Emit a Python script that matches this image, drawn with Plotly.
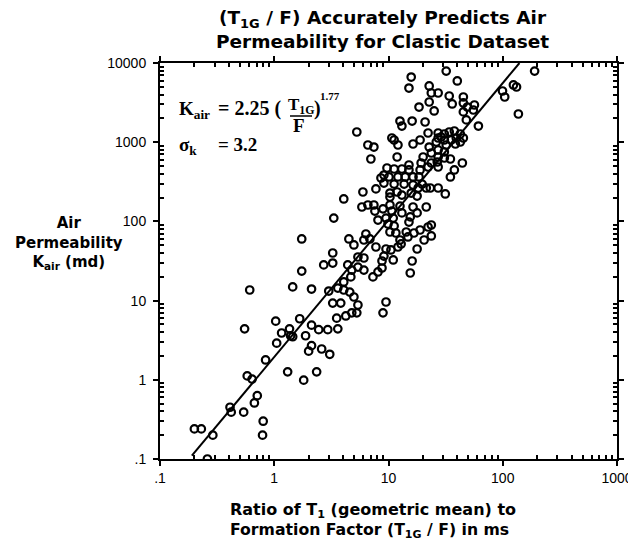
import plotly.graph_objects as go

# T1G/F ratio (ms) and air permeability (md)
ratio = [
    0.20, 0.23, 0.29, 0.26, 0.41, 0.42, 0.54, 0.58, 0.64, 0.71, 0.67, 0.80, 0.79, 0.84,
    0.55, 0.61, 1.03, 1.05, 1.16, 1.31, 1.36, 1.39, 1.45, 1.45, 1.67, 1.74, 1.81, 1.88,
    2.0, 2.12, 2.12, 2.12, 2.35, 2.45, 2.60, 2.94, 3.06, 3.0, 2.71, 1.74,
    5.85, 6.60, 7.45, 7.60, 8.95, 10.3, 10.7, 12.6, 13.1, 16.4, 17.8, 21.4, 15.5, 15.1,
    8.09, 9.51, 11.0, 9.90, 11.2, 10.3, 3.32, 23.7, 22.2, 18.9, 16.7, 14.3, 14.8, 12.6,
    11.6, 23.7, 20.5, 17.8, 16.1, 15.5, 6.34, 6.09, 6.87, 4.50, 4.98, 7.76, 9.51, 10.5,
    12.1, 12.9, 9.12, 11.0, 8.77, 8.77, 8.09, 7.31, 3.25, 3.25, 4.40, 5.40, 6.09, 5.40,
    6.09, 4.77, 4.68, 4.06, 3.60, 4.06, 4.58, 4.98, 5.40, 5.28, 4.77, 4.23, 3.82, 3.25,
    3.52, 3.60, 9.51, 8.95,
    15.8, 15.1, 22.7, 23.7, 27.2, 22.7, 18.5, 25.1, 12.6, 13.1, 16.1, 20.9, 5.28, 22.2,
    27.2, 10.7, 11.2, 18.9, 16.4, 6.60, 7.45, 12.1, 22.7, 27.2, 23.7, 27.2, 7.01, 11.9,
    20.1, 19.3, 23.7, 26.7, 15.1, 9.70, 11.2, 13.1, 15.1, 18.9, 22.2, 9.12, 8.59, 10.1,
    12.1, 14.0, 16.4, 18.5, 9.12, 11.2, 13.7, 16.4, 19.7, 7.76, 5.97, 10.3, 11.9, 13.1,
    15.8, 18.2, 21.4, 23.2, 27.2, 17.8, 10.3, 4.06,
    32.0, 40.0, 190, 124, 132, 99.5, 104, 137, 61.2, 48.0, 34.0, 36.1, 45.2, 45.2,
    49.0, 56.5, 55.3, 45.2, 30.8, 34.0, 37.7, 42.5, 39.2, 35.4, 45.2, 42.5, 30.8, 28.9,
    26.2, 32.0, 38.5, 30.8, 27.2, 30.8, 34.8, 44.3, 37.7, 34.8, 27.2, 31.4,
]
k_air = [
    0.24, 0.24, 0.20, 0.10, 0.45, 0.39, 0.39, 1.12, 1.02, 0.63, 0.51, 0.30, 0.20, 1.78,
    4.4, 13.6, 5.5, 2.9, 3.9, 1.26, 4.4, 3.6, 3.5, 14.9, 5.9, 23.6, 0.99, 3.6,
    2.3, 2.7, 14.0, 4.9, 1.26, 4.3, 2.45, 4.3, 2.1, 13.2, 28.2, 60.0,
    152, 161, 161, 135, 144, 161, 135, 156, 128, 152, 128, 152, 114, 98,
    104, 110, 110, 92.7, 87.5, 73.5, 110, 90.1, 85.0, 77.9, 71.4, 73.5, 63.6, 58.2,
    71.4, 65.5, 58.2, 44.8, 31.6, 22.3, 69.3, 58.2, 60.0, 60.0, 50.4, 47.5, 44.8, 43.6,
    47.5, 51.9, 36.5, 32.6, 31.6, 25.8, 23.0, 19.9, 39.9, 29.8, 28.2, 35.5, 34.5, 26.5,
    24.3, 24.3, 19.9, 17.2, 14.4, 13.6, 12.8, 11.1, 8.8, 7.0, 7.0, 6.4, 9.3, 9.3,
    6.0, 4.4, 9.6, 7.0,
    6650, 4830, 5130, 4180, 4180, 3220, 2780, 2480, 1850, 1600, 1850, 1800, 1345, 1306,
    1306, 1130, 1066, 1066, 949, 922, 869, 922, 869, 1130, 731, 798, 614, 650,
    650, 546, 546, 562, 515, 472, 459, 459, 446, 446, 486, 385, 353, 364,
    364, 364, 364, 364, 305, 296, 296, 288, 296, 257, 235, 228, 235, 215,
    228, 264, 264, 264, 264, 209, 203, 192,
    7900, 5930, 7900, 5280, 4980, 4430, 3720, 2270, 1600, 1910, 3830, 3040, 3720, 3130,
    2780, 2950, 2550, 2410, 1270, 1345, 1385, 1270, 1130, 1066, 1130, 1006, 1066, 1163,
    1006, 922, 949, 752, 650, 632, 614, 546, 446, 364, 486, 222,
]

# regression line end points as drawn
fit_ratio = [0.19, 140]
fit_k_air = [0.11, 10000]

x_tick_vals = [0.1, 1, 10, 100, 1000]
x_tick_text = [".1", "1", "10", "100", "1000"]
y_tick_vals = [0.1, 1, 10, 100, 1000, 10000]
y_tick_text = [".1", "1", "10", "100", "1000", "10000"]

x_minor = [m * d for d in x_tick_vals[:-1] for m in range(2, 10)]
y_minor = [m * d for d in y_tick_vals[:-1] for m in range(2, 10)]

# page geometry: the page body has an 8px margin, so the figure sits at (8, 8)
WIN_W, WIN_H, OFF = 636, 551, 8
# plot-area edges in window pixels
L, R, T, B = 160, 617, 63, 459
W, H = WIN_W - OFF, WIN_H - OFF


def pxx(px):
    return (px - L) / (R - L)


def pxy(py):
    return (B - py) / (B - T)


fig = go.Figure()
fig.add_trace(go.Scatter(
    x=fit_ratio, y=fit_k_air, mode="lines",
    line=dict(color="black", width=2), showlegend=False, hoverinfo="skip",
))
fig.add_trace(go.Scatter(
    x=ratio, y=k_air, mode="markers",
    marker=dict(symbol="circle-open", size=7.5, color="black",
                line=dict(width=2.2, color="black")),
    showlegend=False,
))

tick_font = dict(family="Liberation Sans, Arial, sans-serif", size=14, color="black")
axis_common = dict(
    type="log", showgrid=False, zeroline=False, automargin=False,
    showline=True, linecolor="black", linewidth=2, mirror="allticks",
    ticks="outside", ticklen=5, tickwidth=1.5, tickcolor="black",
    tickfont=tick_font,
)

fig.update_xaxes(
    range=[-1, 3], tickmode="array", tickvals=x_tick_vals, ticktext=x_tick_text,
    minor=dict(tickmode="array", tickvals=x_minor, ticks="inside", ticklen=4,
               tickwidth=1.5, tickcolor="black", showgrid=False),
    **axis_common,
)
fig.update_yaxes(
    range=[-1, 4], tickmode="array", tickvals=y_tick_vals, ticktext=y_tick_text,
    ticklabelstandoff=4,
    minor=dict(tickmode="array", tickvals=y_minor, ticks="inside", ticklen=4,
               tickwidth=1.5, tickcolor="black", showgrid=False),
    **axis_common,
)

sans_b = "DejaVu Sans, Verdana, sans-serif"
serif_b = "Liberation Serif, Times New Roman, serif"


def note(text, px, py, xa, size, family, ya="middle"):
    return dict(text=text, x=pxx(px), y=pxy(py), xref="paper", yref="paper",
                xanchor=xa, yanchor=ya, showarrow=False,
                font=dict(family=family, size=size, color="black"))


ann = [
    # title
    note("<b>(T<sub>1G</sub> / F) Accurately Predicts Air<br>Permeability for Clastic Dataset</b>",
         382, 29, "center", 18.5, sans_b),
    # y-axis title
    note("<b>Air<br>Permeability<br>K<sub>air</sub> (md)</b>", 69, 243, "center", 15, sans_b),
    # x-axis title, two lines
    note("<b>Ratio of T<sub>1</sub> (geometric mean) to</b>", 228, 510, "left", 16, sans_b),
    note("<b>Formation Factor (T<sub>1G</sub> / F) in ms</b>", 228, 530, "left", 15.7, sans_b),
    # equation
    note("<b>K<sub>air</sub></b>", 177, 110, "left", 19, serif_b),
    note("<b>= 2.25 (</b>", 216, 108, "left", 20, serif_b),
    note("<b>T<sub>1G</sub></b>", 301, 106, "center", 17, serif_b),
    note("<b>F</b>", 299, 125, "center", 19, serif_b),
    note("<b>)</b>", 312, 108, "left", 20, serif_b),
    note("<b>1.77</b>", 318, 96, "left", 11, serif_b),
    note("<b>σ<sub>k</sub></b>", 177, 146, "left", 19, serif_b),
    note("<b>= 3.2</b>", 216, 144, "left", 19, serif_b),
]

fig.update_layout(
    width=W, height=H,
    margin=dict(l=L - OFF, r=WIN_W - R, t=T - OFF, b=WIN_H - B),
    paper_bgcolor="white", plot_bgcolor="white",
    annotations=ann,
    shapes=[dict(type="line", xref="paper", yref="paper",
                 x0=pxx(290), x1=pxx(312), y0=pxy(116), y1=pxy(116),
                 line=dict(color="black", width=1.5))],
)

fig.write_html("out.html")
